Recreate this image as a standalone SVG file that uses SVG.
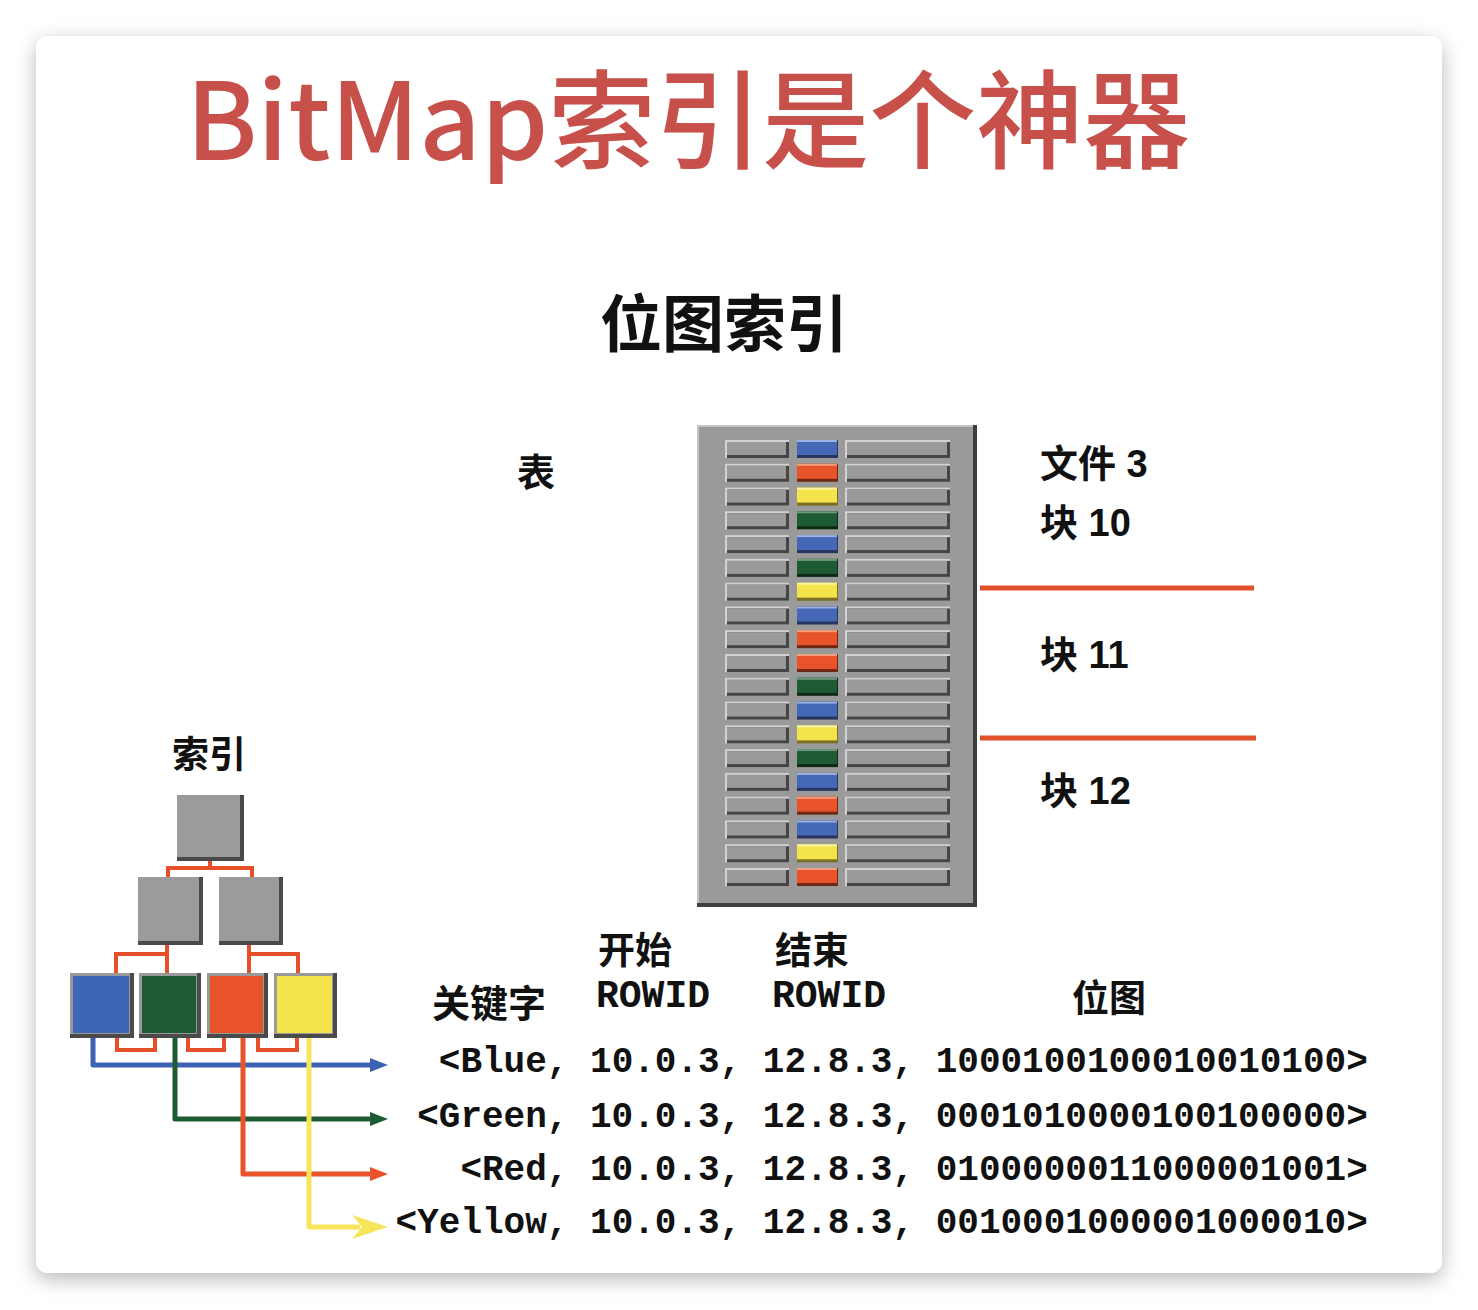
<svg xmlns="http://www.w3.org/2000/svg" width="1478" height="1310" viewBox="0 0 1478 1310">
<style>
.cjk{font-family:"Noto Sans CJK SC","Noto Sans CJK JP",sans-serif;font-weight:700;fill:#111}
.lab{font-family:"Liberation Sans","Noto Sans CJK SC",sans-serif;font-weight:700;font-size:38px;fill:#111}
.mono{font-family:"Liberation Mono","Courier New",monospace;font-weight:700;fill:#111}
.cell{fill:#9a9a9a}
.hl{fill:#d2d2d2}
.sh{fill:#454545}
.red{stroke:#e5502a;stroke-width:4;fill:none}
.blk{stroke:#e0502a;stroke-width:5}
.ln{fill:none;stroke-width:5;stroke-linejoin:round}
</style>
<defs>
<filter id="shadow" x="-5%" y="-5%" width="110%" height="110%">
<feDropShadow dx="0" dy="6" stdDeviation="10" flood-color="#000" flood-opacity="0.28"/>
</filter>
<g id="row">
<rect class="hl" x="725" y="0" width="64" height="18"/><rect class="sh" x="727" y="2" width="62" height="16"/><rect class="cell" x="727" y="2" width="59" height="13"/>
<rect class="hl" x="845" y="0" width="105" height="18"/><rect class="sh" x="847" y="2" width="103" height="16"/><rect class="cell" x="847" y="2" width="100" height="13"/>
</g>
<g id="cB"><rect x="797" y="0" width="41" height="18" fill="#27355f"/><rect x="797" y="0" width="40" height="15" fill="#4467b6"/><rect x="797" y="0" width="40" height="2" fill="#9db2e0"/></g>
<g id="cR"><rect x="797" y="0" width="41" height="18" fill="#6e2813"/><rect x="797" y="0" width="40" height="15" fill="#e8532a"/><rect x="797" y="0" width="40" height="2" fill="#f3a080"/></g>
<g id="cY"><rect x="797" y="0" width="41" height="18" fill="#7a7022"/><rect x="797" y="0" width="40" height="15" fill="#f4e34a"/><rect x="797" y="0" width="40" height="2" fill="#fbf3a8"/></g>
<g id="cG"><rect x="797" y="0" width="41" height="18" fill="#0d2a17"/><rect x="797" y="0" width="40" height="15" fill="#1e5a33"/><rect x="797" y="0" width="40" height="2" fill="#6e9a7c"/></g>
<marker id="aB" viewBox="0 0 18 14" refX="2" refY="7" markerWidth="18" markerHeight="14" markerUnits="userSpaceOnUse" orient="auto"><path d="M0,0 L18,7 L0,14 Z" fill="#3e62b3"/></marker>
<marker id="aG" viewBox="0 0 18 14" refX="2" refY="7" markerWidth="18" markerHeight="14" markerUnits="userSpaceOnUse" orient="auto"><path d="M0,0 L18,7 L0,14 Z" fill="#1e5a33"/></marker>
<marker id="aR" viewBox="0 0 18 14" refX="2" refY="7" markerWidth="18" markerHeight="14" markerUnits="userSpaceOnUse" orient="auto"><path d="M0,0 L18,7 L0,14 Z" fill="#e8532a"/></marker>
<marker id="aY" viewBox="0 0 36 24" refX="8" refY="12" markerWidth="36" markerHeight="24" markerUnits="userSpaceOnUse" orient="auto"><path d="M0,0 L36,12 L0,24 L10,12 Z" fill="#f6e55a"/></marker>
</defs>
<rect width="1478" height="1310" fill="#ffffff"/>
<rect x="36" y="36" width="1406" height="1237" rx="12" fill="#ffffff" filter="url(#shadow)"/>

<text x="186" y="160" font-family="Noto Sans CJK SC, sans-serif" font-weight="500" font-size="107" fill="#c8504a">BitMap索引是个神器</text>
<text class="cjk" x="724" y="347" font-size="62" text-anchor="middle">位图索引</text>

<g id="table">
<rect x="697" y="425" width="280" height="482" fill="#3e3e3e"/>
<rect x="697" y="425" width="276" height="478" fill="#c4c4c4"/>
<rect x="699" y="427" width="274" height="476" fill="#9a9a9a"/>
<use href="#row" y="440"/><use href="#cB" y="440"/>
<use href="#row" y="463.8"/><use href="#cR" y="463.8"/>
<use href="#row" y="487.6"/><use href="#cY" y="487.6"/>
<use href="#row" y="511.3"/><use href="#cG" y="511.3"/>
<use href="#row" y="535.1"/><use href="#cB" y="535.1"/>
<use href="#row" y="558.9"/><use href="#cG" y="558.9"/>
<use href="#row" y="582.7"/><use href="#cY" y="582.7"/>
<use href="#row" y="606.5"/><use href="#cB" y="606.5"/>
<use href="#row" y="630.2"/><use href="#cR" y="630.2"/>
<use href="#row" y="654"/><use href="#cR" y="654"/>
<use href="#row" y="677.8"/><use href="#cG" y="677.8"/>
<use href="#row" y="701.6"/><use href="#cB" y="701.6"/>
<use href="#row" y="725.4"/><use href="#cY" y="725.4"/>
<use href="#row" y="749.1"/><use href="#cG" y="749.1"/>
<use href="#row" y="772.9"/><use href="#cB" y="772.9"/>
<use href="#row" y="796.7"/><use href="#cR" y="796.7"/>
<use href="#row" y="820.5"/><use href="#cB" y="820.5"/>
<use href="#row" y="844.3"/><use href="#cY" y="844.3"/>
<use href="#row" y="868"/><use href="#cR" y="868"/>
</g>

<g id="labels">
<text class="cjk" x="517" y="486" font-size="38">表</text>
<text class="lab" x="1040" y="477">文件 3</text>
<text class="lab" x="1040" y="536">块 10</text>
<text class="lab" x="1040" y="668">块 11</text>
<text class="lab" x="1040" y="804">块 12</text>
<line class="blk" x1="980" y1="588" x2="1254" y2="588"/>
<line class="blk" x1="980" y1="738" x2="1256" y2="738"/>
</g>

<g id="index-title"><text class="cjk" x="172" y="768" font-size="37">索引</text></g>

<g id="connectors">
<path class="red" d="M210,860 V868 M168,877 V868 H252 V877"/>
<path class="red" d="M167,944 V954 M116,973 V954 H167 V973"/>
<path class="red" d="M249,944 V954 M249,973 V954 H298 V973"/>
<path class="red" d="M117,1037 V1050 H155 V1037 M188,1037 V1050 H224 V1037 M258,1037 V1050 H297 V1037"/>
<path class="ln" stroke="#3e62b3" d="M93,1037 V1065 H372" marker-end="url(#aB)"/>
<path class="ln" stroke="#1e5a33" d="M175,1037 V1119 H372" marker-end="url(#aG)"/>
<path class="ln" stroke="#e8532a" d="M243,1037 V1174 H372" marker-end="url(#aR)"/>
<path class="ln" stroke="#f6e55a" d="M309,1037 V1227 H360" marker-end="url(#aY)"/>
</g>

<g id="tree">
<g id="root"><rect x="177" y="795" width="67" height="66" fill="#4a4a4a"/><rect x="177" y="795" width="63" height="62" fill="#9b9b9b"/></g>
<g id="mid-left"><rect x="138" y="877" width="65" height="68" fill="#4a4a4a"/><rect x="138" y="877" width="61" height="64" fill="#9b9b9b"/></g>
<g id="mid-right"><rect x="219" y="877" width="64" height="68" fill="#4a4a4a"/><rect x="219" y="877" width="60" height="64" fill="#9b9b9b"/></g>
<g id="leaf-blue"><rect x="70" y="973" width="64" height="65" fill="#4a4a4a"/><rect x="70" y="973" width="60" height="61" fill="#999"/><rect x="73" y="976" width="56" height="57" fill="#3f66b6"/></g>
<g id="leaf-green"><rect x="139" y="973" width="62" height="65" fill="#4a4a4a"/><rect x="139" y="973" width="58" height="61" fill="#999"/><rect x="142" y="976" width="54" height="57" fill="#1e5a33"/></g>
<g id="leaf-red"><rect x="207" y="973" width="61" height="65" fill="#4a4a4a"/><rect x="207" y="973" width="57" height="61" fill="#999"/><rect x="210" y="976" width="53" height="57" fill="#e8532a"/></g>
<g id="leaf-yellow"><rect x="274" y="973" width="63" height="65" fill="#4a4a4a"/><rect x="274" y="973" width="59" height="61" fill="#999"/><rect x="277" y="976" width="55" height="57" fill="#f4e34a"/></g>
</g>

<g id="header">
<text class="cjk" x="598" y="964" font-size="37">开始</text>
<text class="cjk" x="775" y="964" font-size="37">结束</text>
<text class="cjk" x="432" y="1017" font-size="38">关键字</text>
<text class="mono" x="596" y="1007" font-size="38">ROWID</text>
<text class="mono" x="772" y="1007" font-size="38">ROWID</text>
<text class="cjk" x="1072" y="1012" font-size="37">位图</text>
</g>
<g id="data">
<text class="mono" x="438.8" y="1072" font-size="36">&lt;Blue, 10.0.3, 12.8.3, 1000100100010010100&gt;</text>
<text class="mono" x="417.2" y="1127" font-size="36">&lt;Green, 10.0.3, 12.8.3, 0001010000100100000&gt;</text>
<text class="mono" x="460.4" y="1180" font-size="36">&lt;Red, 10.0.3, 12.8.3, 0100000011000001001&gt;</text>
<text class="mono" x="395.6" y="1233" font-size="36">&lt;Yellow, 10.0.3, 12.8.3, 0010001000001000010&gt;</text>
</g>
</svg>
